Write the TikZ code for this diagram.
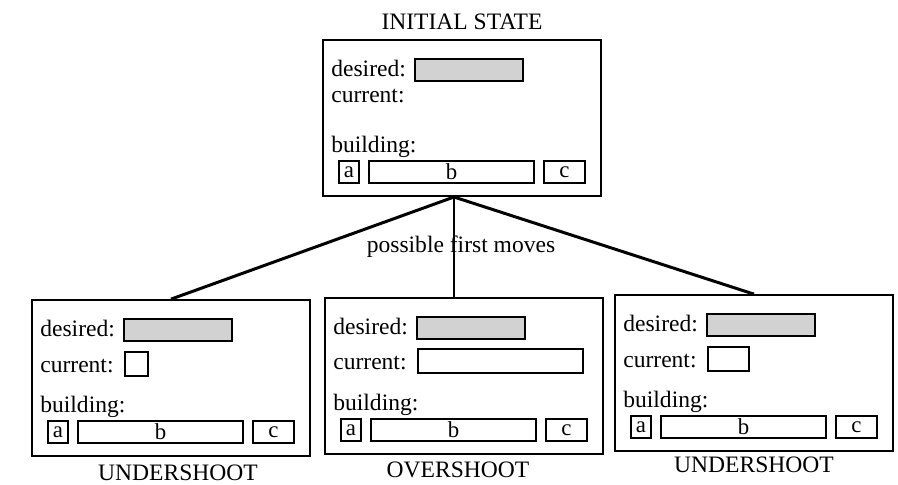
\documentclass[tikz,border=0pt]{standalone}
\usepackage{fontspec}
\setmainfont{Liberation Serif}
\usetikzlibrary{positioning}

\tikzset{
  frame/.style={draw, line width=1pt, minimum width=5.56cm, minimum height=3.12cm, inner sep=0pt},
  word/.style={anchor=base west, inner sep=0pt, font=\fontsize{13.4}{16}\selectfont},
  slot/.style={draw, line width=0.9pt, minimum height=0.44cm, inner sep=0pt, font=\fontsize{13}{16}\selectfont},
  move/.style={line width=1.7pt}
}

% one state: name, top left corner, baseline of the current row, current slot options
\newcommand{\statebox}[4]{%
  \begin{scope}[shift={#2}]
    \node[frame] (#1) at (139,78) {};
    \node[word] (#1-des) at (8,36) {desired:};
    \node[slot, fill=gray!35, minimum width=2.16cm] (#1-goal) at (146,30) {};
    \node[word] (#1-cur) at (8,#3) {current:};
    \node[slot, anchor=west, minimum height=0.48cm, #4] (#1-now) at (92,{#3-8}) {};
    \node[word] (#1-bld) at (8,112) {building:};
    \node[slot, minimum width=0.4cm] (#1-a) at (26,132) {a};
    \node[slot, minimum width=3.3cm] (#1-b) at (128.5,132) {b};
    \node[slot, minimum width=0.82cm] (#1-c) at (241.5,132) {c};
  \end{scope}}

\begin{document}
\begin{tikzpicture}[x=0.02cm, y=-0.02cm]
  \useasboundingbox (0,0) rectangle (898,484);

  \statebox{init}{(323,40)}{62}{draw=none}
  \statebox{under1}{(32,300)}{72}{minimum width=0.46cm}
  \statebox{over}{(325,298)}{71}{minimum width=3.3cm}
  \statebox{under2}{(615,295)}{72}{minimum width=0.82cm}

  %% captions
  \node[word, anchor=base] (init-cap) at ([yshift=0.2cm]init.north) {INITIAL STATE};
  \node[word, anchor=base] (under1-cap) at ([xshift=0.14cm, yshift=-0.48cm]under1.south) {UNDERSHOOT};
  \node[word, anchor=base] (over-cap) at ([xshift=-0.12cm, yshift=-0.46cm]over.south) {OVERSHOOT};
  \node[word, anchor=base] (under2-cap) at ([yshift=-0.42cm]under2.south) {UNDERSHOOT};

  %% the three moves
  \coordinate (fork) at (454,197);
  \draw[move] (fork) -- (under1.north);
  \draw[line width=1.1pt] (fork) -- (fork |- over.north);
  \draw[move] (fork) -- (under2.north);
  \node[word, anchor=base] (moves) at (461,252) {possible first moves};
\end{tikzpicture}
\end{document}
